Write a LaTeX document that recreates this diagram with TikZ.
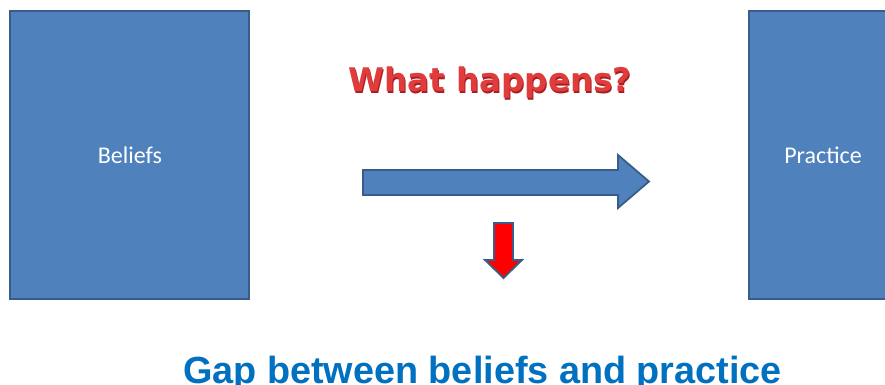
\documentclass[tikz,border=0pt]{standalone}
\usepackage{fontspec}
\setmainfont{Carlito}
\newfontfamily\gapfont{Liberation Sans}
\newfontfamily\whatfont{DejaVu Sans}
\definecolor{boxfill}{RGB}{79,129,189}
\definecolor{boxline}{RGB}{56,93,138}
\definecolor{gapblue}{RGB}{0,112,192}
\definecolor{whatred}{RGB}{225,60,60}
\definecolor{whatdark}{RGB}{170,30,35}
\begin{document}
\begin{tikzpicture}[x=1pt,y=-1pt,
  bluebox/.style={draw=boxline,fill=boxfill,line width=1.8pt},
  boxtext/.style={text=white,font=\fontsize{24}{28}\selectfont,inner sep=0pt,anchor=base},
  bigarrow/.style={draw=boxline,fill=boxfill,line width=1.8pt,line join=miter},
  redarrow/.style={draw=boxline,fill=red,line width=1.8pt,line join=miter}]
\useasboundingbox (0,0) rectangle (885,385);
% boxes
\draw[bluebox] (10,11) rectangle (249,299);
\draw[bluebox] (749,11) rectangle (900,299);
\node[boxtext] (beliefs) at (130,163) {Beliefs};
\node[boxtext] (practice) at (823,163) {Practice};
% right arrow
\draw[bigarrow] (363,170) -- (618,170) -- (618,155) -- (649,181.5) -- (618,208) -- (618,195) -- (363,195) -- cycle;
% down arrow
\draw[redarrow] (494,223) -- (513,223) -- (513,260) -- (522,260) -- (503.5,278) -- (485,260) -- (494,260) -- cycle;
% title
\node[text=whatdark,inner sep=0pt,anchor=base,font=\whatfont\bfseries\fontsize{32.5}{36}\selectfont] (whatshadow) at (491.2,93.2) {What happens?};
\node[text=whatred,inner sep=0pt,anchor=base,font=\whatfont\bfseries\fontsize{32.5}{36}\selectfont] (what) at (490,92) {What happens?};
% caption
\node[text=gapblue,inner sep=0pt,anchor=base,font=\gapfont\bfseries\fontsize{37.8}{40}\selectfont] (gap) at (482.5,383) {Gap between beliefs and practice};
\end{tikzpicture}
\end{document}
